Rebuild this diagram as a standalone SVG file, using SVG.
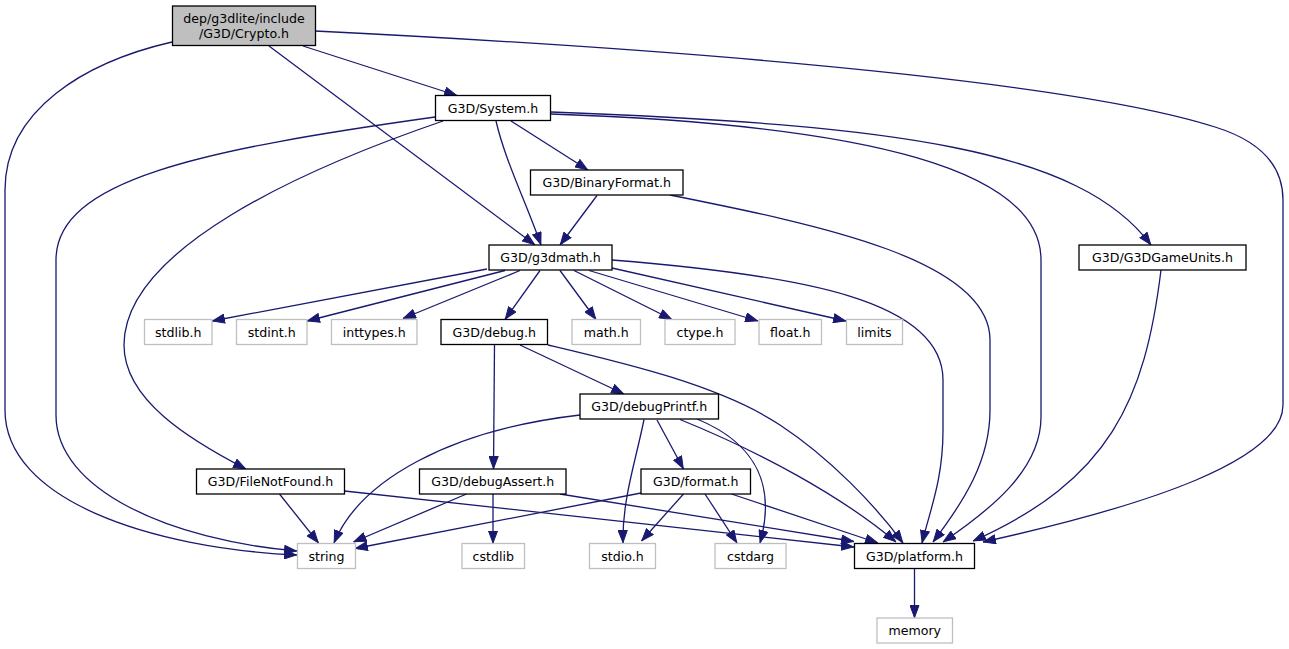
<svg xmlns="http://www.w3.org/2000/svg" width="1289" height="649" viewBox="0 0 1289 649">
<style>
.n rect{fill:#fff;stroke:#000;stroke-width:1.3}
.g rect{fill:#fff;stroke:#bfbfbf;stroke-width:1.3}
#crypto rect{fill:#bfbfbf;stroke:#000;stroke-width:1.3}
text{font-family:"DejaVu Sans","Liberation Sans",sans-serif;font-size:12.6px;text-anchor:middle;fill:#000}
#edges path{fill:none;stroke:#191970;stroke-width:1.3;marker-end:url(#a)}
</style>
<defs>
<marker id="a" viewBox="0 0 13 10" refX="13" refY="5" markerWidth="13" markerHeight="10" markerUnits="userSpaceOnUse" orient="auto">
<path d="M0.5,0.5 L12.5,5 L0.5,9.5 z" fill="#191970" stroke="#191970" stroke-width="1"/>
</marker>
</defs>
<rect width="1289" height="649" fill="#fff"/>
<g id="edges">
<path d="M303,46 L457,95.5"/>
<path d="M269,46 L535,245"/>
<path d="M172,42 C85,62 5,110 5,190 L5,410 C5,500 150,548 297,555"/>
<path d="M315,31 C800,55 1100,90 1215,127 C1260,141 1283,165 1283,200 L1283,405 C1283,460 1150,505 983,542"/>
<path d="M435,117 C200,150 56,180 56,260 L56,415 C56,490 170,540 297,551"/>
<path d="M443,121 C300,170 124,250 124,345 C124,400 190,440 246,469"/>
<path d="M496,121 C505,160 525,200 541,245"/>
<path d="M511,121 L588,170"/>
<path d="M597,195.5 L560,245"/>
<path d="M551,112 C900,125 1080,150 1151,245"/>
<path d="M551,114 C870,125 1041,170 1041,260 L1041,417 C1041,470 990,510 943,542"/>
<path d="M670,195 C820,225 990,260 990,340 L990,410 C990,460 965,500 933,542"/>
<path d="M612,260 C800,275 943,300 943,380 L943,430 C943,480 930,510 922,543"/>
<path d="M1161,270 C1145,400 1110,480 973,541"/>
<path d="M487,269 L212,321"/>
<path d="M505,270.5 L307,321"/>
<path d="M520,270.5 L403,318.5"/>
<path d="M540,270.5 L505,319.5"/>
<path d="M560,270.5 L596,319.5"/>
<path d="M574,270.5 L672,319.5"/>
<path d="M589,270.5 L758,321"/>
<path d="M612,268 L846,321"/>
<path d="M494.5,345 L493.5,469"/>
<path d="M520,345 L624,394"/>
<path d="M548,345 C620,362 720,385 780,425 C830,458 875,505 903,543"/>
<path d="M580,415 C450,430 360,480 334,543"/>
<path d="M644,419.5 C636,460 622,500 623,543"/>
<path d="M657,420 L683.5,469"/>
<path d="M697,419 C760,445 775,490 760,543"/>
<path d="M680,419.5 C760,452 840,495 896,542"/>
<path d="M279.5,494 L318.5,543"/>
<path d="M344.5,491 L854,547"/>
<path d="M466.5,494 L353.5,542"/>
<path d="M493,494 L493,543.5"/>
<path d="M560,494 L854,541.5"/>
<path d="M641,493 L355,548.5"/>
<path d="M683.5,494 L641.5,541"/>
<path d="M705,494 L737,543"/>
<path d="M731.5,494 L878,543"/>
<path d="M914.5,568.5 L914.5,618"/>
</g>
<g id="crypto"><rect x="172.5" y="6" width="143" height="39.5"/><text x="244" y="22.5">dep/g3dlite/include</text><text x="244" y="37.5">/G3D/Crypto.h</text></g>
<g id="system" class="n"><rect x="435.5" y="95.5" width="115" height="25"/><text x="493" y="112.5">G3D/System.h</text></g>
<g id="binaryformat" class="n"><rect x="530.5" y="170" width="152.5" height="25"/><text x="606.75" y="187">G3D/BinaryFormat.h</text></g>
<g id="g3dmath" class="n"><rect x="489" y="245" width="123" height="25"/><text x="550.5" y="262">G3D/g3dmath.h</text></g>
<g id="g3dgameunits" class="n"><rect x="1079" y="245" width="167" height="25"/><text x="1162.5" y="262">G3D/G3DGameUnits.h</text></g>
<g id="stdlib" class="g"><rect x="144.5" y="319.5" width="67.5" height="25"/><text x="178.25" y="336.5">stdlib.h</text></g>
<g id="stdint" class="g"><rect x="236.5" y="319.5" width="70.5" height="25"/><text x="271.75" y="336.5">stdint.h</text></g>
<g id="inttypes" class="g"><rect x="331.5" y="319.5" width="85.5" height="25"/><text x="374.25" y="336.5">inttypes.h</text></g>
<g id="debug" class="n"><rect x="441" y="319.5" width="106.5" height="25"/><text x="494.25" y="336.5">G3D/debug.h</text></g>
<g id="math" class="g"><rect x="572" y="319.5" width="68.5" height="25"/><text x="606.25" y="336.5">math.h</text></g>
<g id="ctype" class="g"><rect x="665" y="319.5" width="70" height="25"/><text x="700" y="336.5">ctype.h</text></g>
<g id="float" class="g"><rect x="759" y="319.5" width="62.5" height="25"/><text x="790.25" y="336.5">float.h</text></g>
<g id="limits" class="g"><rect x="846.5" y="319.5" width="56" height="25"/><text x="874.5" y="336.5">limits</text></g>
<g id="debugprintf" class="n"><rect x="580" y="394" width="138.5" height="25"/><text x="649.25" y="411">G3D/debugPrintf.h</text></g>
<g id="filenotfound" class="n"><rect x="196.5" y="469" width="148" height="25"/><text x="270.5" y="486">G3D/FileNotFound.h</text></g>
<g id="debugassert" class="n"><rect x="419.5" y="469" width="146.5" height="25"/><text x="492.75" y="486">G3D/debugAssert.h</text></g>
<g id="format" class="n"><rect x="641" y="469" width="109.5" height="25"/><text x="695.75" y="486">G3D/format.h</text></g>
<g id="string" class="g"><rect x="297.5" y="543.5" width="58" height="25"/><text x="326.5" y="560.5">string</text></g>
<g id="cstdlib" class="g"><rect x="462" y="543.5" width="62.5" height="25"/><text x="493.25" y="560.5">cstdlib</text></g>
<g id="stdio" class="g"><rect x="589.5" y="543.5" width="66" height="25"/><text x="622.5" y="560.5">stdio.h</text></g>
<g id="cstdarg" class="g"><rect x="715" y="543.5" width="71" height="25"/><text x="750.5" y="560.5">cstdarg</text></g>
<g id="platform" class="n"><rect x="854.5" y="543.5" width="120" height="25"/><text x="914.5" y="560.5">G3D/platform.h</text></g>
<g id="memory" class="g"><rect x="877" y="618" width="75.5" height="25"/><text x="914.75" y="635">memory</text></g>
</svg>
